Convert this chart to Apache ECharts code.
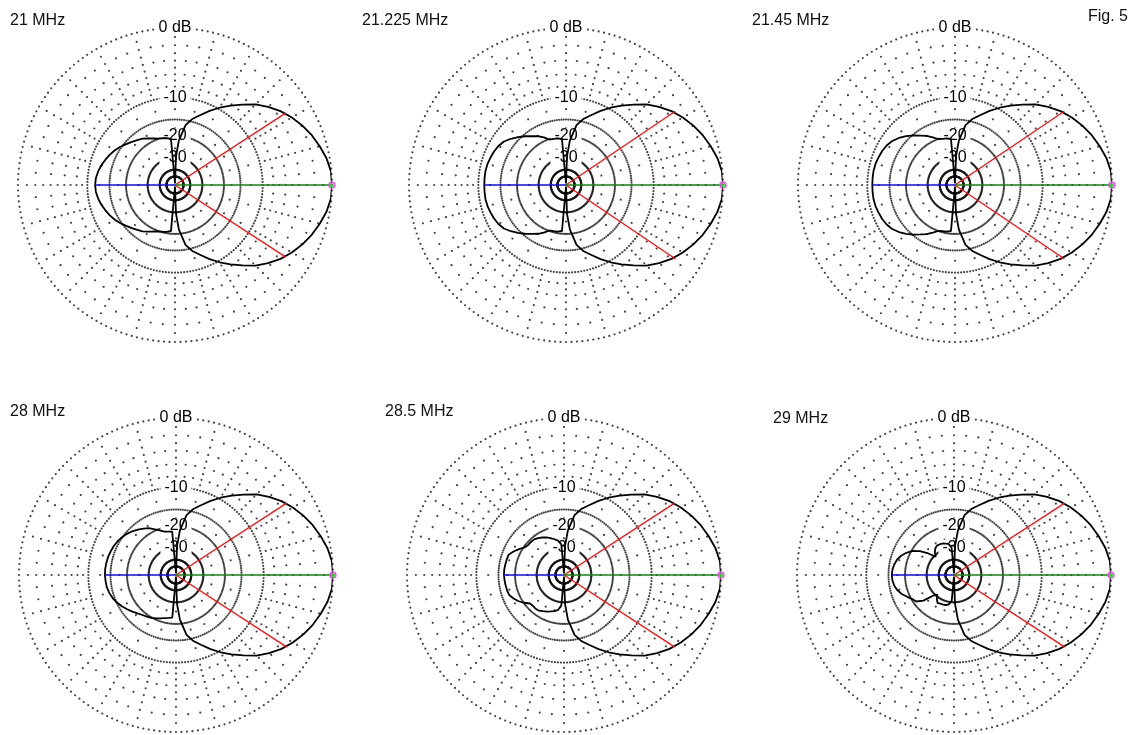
<!DOCTYPE html>
<html>
<head>
<meta charset="utf-8">
<script src="https://cdn.jsdelivr.net/npm/echarts@6/dist/echarts.min.js"></script>
<style>
html,body{margin:0;padding:0;background:#fff;}
#c{width:1135px;height:735px;}
</style>
</head>
<body>
<div id="c"></div>
<script>
// ---------------- DATA ----------------
const titles = ['21 MHz', '21.225 MHz', '21.45 MHz', '28 MHz', '28.5 MHz', '29 MHz'];
const figLabel = 'Fig. 5';

// forward lobe (same for all plots), mirrored about 0 deg
const frontAngles = [0, 5, 10, 15, 20, 25, 30, 35, 40, 45, 50, 55, 60, 65, 70, 75, 80, 85, 88];
const frontDb     = [0, -0.05, -0.35, -0.8, -1.3, -1.9, -2.6, -3.4, -4.4, -5.5, -6.9, -8.3, -9.7, -11.2, -12.8, -14.2, -16.3, -21.5, -29];

// rear lobes, angles 95..265 step 5
const rearAngles = [95,100,105,110,115,120,125,130,135,140,145,150,155,160,165,170,175,180,
                    185,190,195,200,205,210,215,220,225,230,235,240,245,250,255,260,265];
const rear21    = [-21,-20.5,-20.2,-19.9,-19.2,-18.4,-17.5,-16.9,-16.2,-15.5,-14.7,-14.0,-13.4,-12.9,-12.4,-12.0,-11.7,-11.6,
                   -11.7,-12.0,-12.4,-12.9,-13.4,-14.0,-14.7,-15.5,-16.2,-16.9,-17.5,-18.4,-19.2,-19.9,-20.2,-20.5,-21];
const rear21225 = [-21,-20.6,-20.4,-20.2,-18.8,-17.6,-16.6,-15.5,-14.4,-13.4,-12.5,-12.0,-11.7,-11.5,-11.3,-11.2,-11.2,-11.2,
                   -11.2,-11.2,-11.3,-11.5,-11.7,-12.0,-12.5,-13.4,-14.4,-15.5,-16.6,-17.6,-18.8,-20.2,-20.4,-20.6,-21];
const rear2145  = [-21,-20.6,-20.4,-20.0,-18.8,-17.5,-16.4,-15.2,-14.1,-13.1,-12.3,-11.8,-11.5,-11.3,-11.1,-11.0,-11.0,-11.0,
                   -11.0,-11.0,-11.1,-11.3,-11.5,-11.8,-12.3,-13.1,-14.1,-15.2,-16.4,-17.5,-18.8,-20.0,-20.4,-20.6,-21];
const rear28    = [-22,-21.8,-21.5,-20.5,-19.5,-18.3,-17.5,-16.7,-16.0,-15.4,-14.9,-14.5,-14.2,-14.0,-13.8,-13.7,-13.6,-13.6,
                   -13.7,-13.8,-14.1,-14.5,-15.1,-15.8,-16.6,-17.4,-18.2,-18.9,-19.4,-19.8,-20.4,-21.0,-21.6,-22.0,-22.3];
const rear285   = [-28,-25.8,-24.8,-23.8,-22.8,-22.1,-21.4,-20.9,-20.8,-20.8,-20.3,-19.0,-17.8,-16.8,-16.7,-16.6,-16.5,-16.5,
                   -16.6,-16.7,-16.8,-17.0,-17.8,-18.8,-20.2,-21.7,-21.9,-21.8,-22.0,-22.7,-23.3,-24.0,-24.6,-25.4,-28];
const rear29    = [-30,-27.5,-27,-26.5,-26.3,-26.3,-27,-28.5,-31,-26.5,-22.8,-20.3,-18.8,-17.6,-16.8,-16.3,-16.0,-15.9,
                   -16.0,-16.3,-16.9,-17.8,-19.1,-20.3,-21.0,-23.5,-29,-31,-28.5,-27,-27.5,-27.5,-27.8,-28.5,-31];
const rearLobes = [rear21, rear21225, rear2145, rear28, rear285, rear29];

const nullDb = -80;                        // side nulls at 90 / 270 deg
const halfPowerAngles = [33, 34, 34, 33, 33, 33];
const halfPowerDb = -3;

// grid
const ringDb = [0, -10, -15, -20, -30, -40, -50];
const ringLabelDb = [0, -10, -20, -30];
const ringLabelText = ['0 dB', '-10', '-20', '-30'];
const spokeMajorDb = [-1,-2,-3,-4,-5,-6,-7,-8,-9,-12.5,-17.5,-25];
const spokeMinorDb = [-2,-4,-6,-8];

// ---------------- LAYOUT ----------------
const centers = [[175,185],[566,185],[955,185],[176,575],[564,575],[954,575]];
const R = 157;
const titlePos = [[10,21],[362,21],[752,21],[10,412],[385,412],[773,419]];
const figPos = [1088,17];
const FONT = '"Liberation Sans", Arial, Helvetica, sans-serif';

// ARRL log scale: each 2 dB = factor 0.89
const arrl = db => Math.pow(0.89, -db / 2);

const series = [];
centers.forEach((c, i) => {
  const ringPts = [];
  ringDb.forEach(db => { for (let a = 0; a < 360; a += 2) ringPts.push([arrl(db), a]); });
  const spokePts = [];
  for (let a = 0; a < 360; a += 5) {
    const lv = (a % 15 === 0) ? spokeMajorDb : spokeMinorDb;
    lv.forEach(db => spokePts.push([arrl(db), a]));
  }
  series.push({
    type: 'scatter', coordinateSystem: 'polar', polarIndex: i, silent: true, z: 1,
    symbol: 'circle', symbolSize: 2.2, itemStyle: { color: '#151515' },
    data: ringPts.concat(spokePts)
  });
  series.push({
    type: 'scatter', coordinateSystem: 'polar', polarIndex: i, silent: true, z: 2,
    symbolSize: 1, itemStyle: { color: '#ffffff' },
    label: {
      show: true, position: 'inside', formatter: '{b}', color: '#000', opacity: 1,
      textBorderWidth: 0, textBorderColor: 'transparent',
      fontSize: 16, fontFamily: FONT, backgroundColor: '#fff', padding: [0, 4]
    },
    data: ringLabelDb.map((db, k) => ({ name: ringLabelText[k], value: [arrl(db), 90] }))
  });
  const rear = rearLobes[i];
  const pts = [];
  frontAngles.forEach((a, k) => pts.push([arrl(frontDb[k]), a]));
  pts.push([arrl(nullDb), 90]);
  rearAngles.forEach((a, k) => pts.push([arrl(rear[k]), a]));
  pts.push([arrl(nullDb), 270]);
  for (let k = frontAngles.length - 1; k >= 1; k--) pts.push([arrl(frontDb[k]), 360 - frontAngles[k]]);
  pts.push([arrl(frontDb[0]), 360]);
  series.push({
    type: 'line', coordinateSystem: 'polar', polarIndex: i, silent: true, z: 5,
    showSymbol: false, symbol: 'none', smooth: false,
    lineStyle: { color: '#000', width: 1.8 },
    data: pts
  });
  [halfPowerAngles[i], 360 - halfPowerAngles[i]].forEach(a => {
    series.push({
      type: 'line', coordinateSystem: 'polar', polarIndex: i, silent: true, z: 6,
      symbol: 'none', lineStyle: { color: '#ff1010', width: 1.4 },
      data: [[0, a], [arrl(halfPowerDb), a]]
    });
  });
  const backDb = rear[rearAngles.indexOf(180)];
  series.push({
    type: 'line', coordinateSystem: 'polar', polarIndex: i, silent: true, z: 6,
    symbol: 'none', lineStyle: { color: '#0a0aff', width: 1.7 },
    data: [[0, 180], [arrl(backDb), 180]]
  });
  series.push({
    type: 'line', coordinateSystem: 'polar', polarIndex: i, silent: true, z: 6,
    symbol: 'none', lineStyle: { color: '#0a8a0a', width: 1.7 },
    data: [[0, 0], [arrl(frontDb[0]), 0]]
  });
  series.push({
    type: 'scatter', coordinateSystem: 'polar', polarIndex: i, silent: true, z: 7,
    symbol: 'circle', symbolSize: 6,
    itemStyle: { color: '#33dd33', borderColor: '#ff33ff', borderWidth: 1.5 },
    data: [[arrl(frontDb[0]), 0]]
  });
});

const graphic = titles.map((t, i) => ({
  type: 'text', x: titlePos[i][0], y: titlePos[i][1], silent: true,
  style: { text: t, fill: '#111', font: '16px ' + FONT, verticalAlign: 'middle' }
}));
graphic.push({
  type: 'text', x: figPos[0], y: figPos[1], silent: true,
  style: { text: figLabel, fill: '#111', font: '16px ' + FONT, verticalAlign: 'middle' }
});

const option = {
  animation: false,
  backgroundColor: '#ffffff',
  polar: centers.map(c => ({ center: c, radius: R })),
  angleAxis: centers.map((c, i) => ({
    polarIndex: i, type: 'value', min: 0, max: 360, startAngle: 0, clockwise: false,
    axisLine: { show: false }, axisTick: { show: false }, axisLabel: { show: false },
    splitLine: { show: false }
  })),
  radiusAxis: centers.map((c, i) => ({
    polarIndex: i, type: 'value', min: 0, max: 1,
    axisLine: { show: false }, axisTick: { show: false }, axisLabel: { show: false },
    splitLine: { show: false }
  })),
  series: series,
  graphic: graphic
};

const chart = echarts.init(document.getElementById('c'), null, { renderer: 'canvas' });
chart.setOption(option);
</script>
</body>
</html>
